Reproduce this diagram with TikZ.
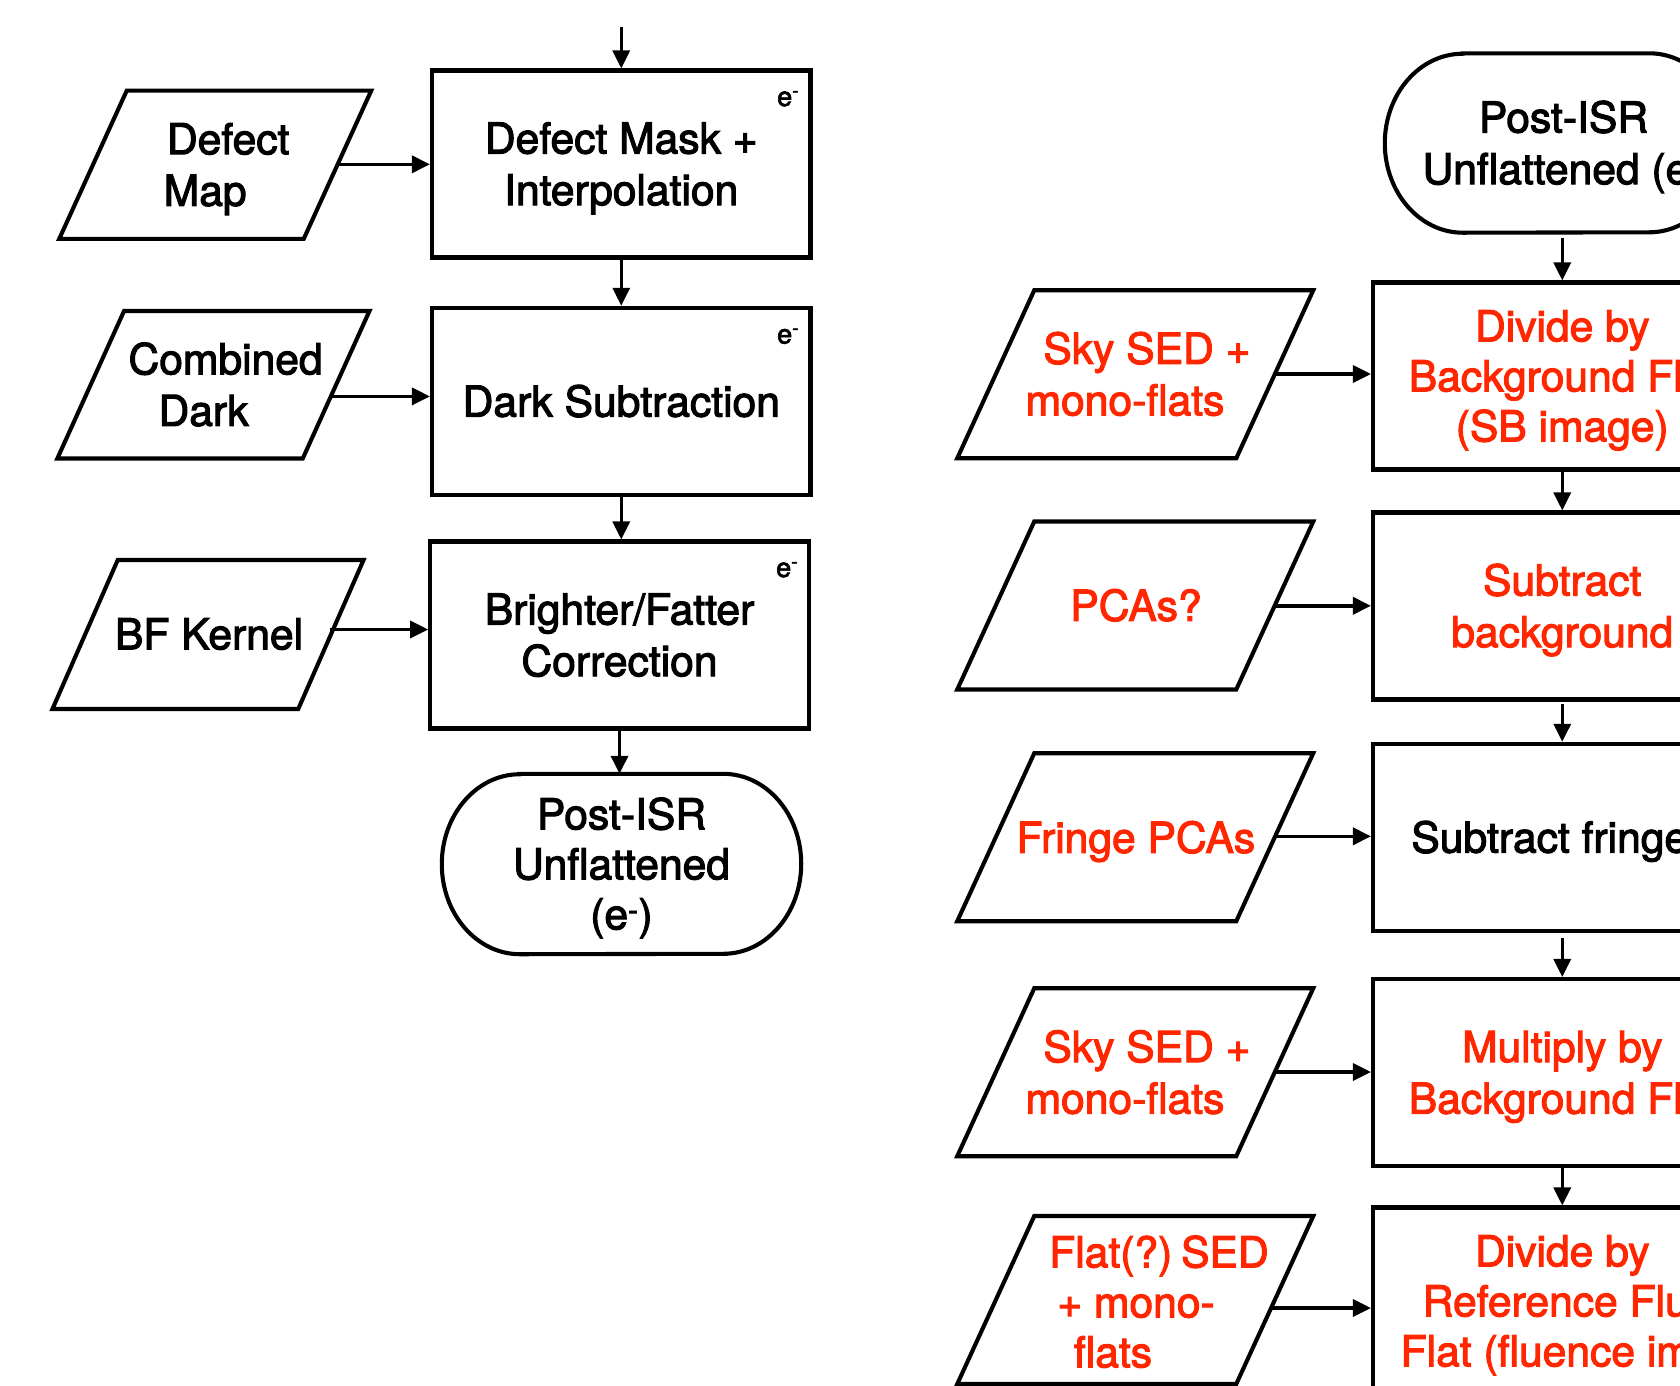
\documentclass[tikz,border=0pt]{standalone}
\usepackage{fontspec}
\setmainfont{TeX Gyre Heros}[FakeBold=2.5]
\usetikzlibrary{arrows.meta}
\definecolor{kred}{RGB}{255,38,0}
\newcommand\bigfnt{\fontsize{42.6pt}{50pt}\selectfont}
\newcommand\smallfnt{\fontsize{27pt}{29pt}\selectfont}
\newcommand\stl{\rule[-10pt]{0pt}{50.6pt}}
\newcommand\gap[1]{\rule{#1}{0pt}}
\newcommand\pgram[5]{\draw[shp] ({#1-#3+#4},{#2-#5}) -- ({#1+#3+#4},{#2-#5}) -- ({#1+#3-#4},{#2+#5}) -- ({#1-#3-#4},{#2+#5}) -- cycle;}
\begin{document}
\begin{tikzpicture}[x=1pt,y=-1pt,
  box/.style={draw, line width=4.1pt, minimum width=378.5pt, minimum height=187pt, inner sep=0pt, align=center, font=\bigfnt},
  txt/.style={inner sep=0pt, align=center, font=\bigfnt},
  shp/.style={draw, line width=4.1pt, line join=miter},
  arr/.style={line width=3.4pt, -{Triangle[length=18pt,width=17pt]}},
  esup/.style={inner sep=0pt, font=\smallfnt, anchor=base west}]
\useasboundingbox (0,0) rectangle (1680,1385);
\clip (0,0) rectangle (1680,1385);
\fill[white] (0,0) rectangle (1680,1385);

% ---------- left column ----------
\coordinate (top) at (621.25,27);
\node[box] (b1) at (621.25,164) {\stl Defect Mask +\\Interpolation\stl};
\node[box] (b2) at (621.25,401.3) {\stl Dark Subtraction\stl};
\node[box] (b3) at (619.5,635) {\stl Brighter/Fatter\\Correction\stl};
\node[esup] (e1) at (777,106) {e\textsuperscript{-}};
\node[esup] (e2) at (777,343.5) {e\textsuperscript{-}};
\node[esup] (e3) at (776,577) {e\textsuperscript{-}};

\pgram{215.25}{164.7}{122.25}{33.75}{74.1}
\node[txt] (dm) at (216.7,164.7) {\stl\gap{23pt}Defect\\Map\gap{23pt}\stl};
\coordinate (dma) at (337.8,164.3);
\pgram{213.4}{384.75}{122.7}{33.35}{73.75}
\node[txt] (cd) at (214.6,384.75) {\stl\gap{22pt}Combined\\Dark\gap{22pt}\stl};
\coordinate (cda) at (330.8,396.4);
\pgram{208}{634.5}{122.9}{32.65}{74.5}
\node[txt] (bfk) at (209,634) {\stl BF Kernel\stl};
\coordinate (bfa) at (330,629.5);

\node[txt, minimum width=359pt, minimum height=180pt] (lp) at (621.5,864) {\stl Post-ISR\\Unflattened\\(e\textsuperscript{-})\stl};
\draw[shp] ([xshift=78pt]lp.north west) -- ([xshift=-78pt]lp.north east)
  arc[start angle=90,end angle=-90,x radius=78pt,y radius=90pt]
  -- ([xshift=78pt]lp.south west)
  arc[start angle=270,end angle=90,x radius=78pt,y radius=90pt] -- cycle;

\draw[arr] (top) -- (b1.north);
\draw[arr] (b1.south) -- (b2.north);
\draw[arr] (b2.south) -- (b2.south |- b3.north);
\draw[arr] (b3.south) -- (b3.south |- lp.north);
\draw[arr] (dma) -- (dma -| b1.west);
\draw[arr] (cda) -- (cda -| b2.west);
\draw[arr] (bfa) -- (bfa -| b3.west);

% ---------- right column ----------
\node[txt, minimum width=342pt, minimum height=179pt] (rp) at (1556,143) {\stl\gap{15pt}Post-ISR\\Unflattened (e\stl};
\draw[shp] ([xshift=78pt]rp.north west) -- ([xshift=-78pt]rp.north east)
  arc[start angle=90,end angle=-90,x radius=78pt,y radius=89.5pt]
  -- ([xshift=78pt]rp.south west)
  arc[start angle=270,end angle=90,x radius=78pt,y radius=89.5pt] -- cycle;

\node[box, text=kred] (r1) at (1562.25,376) {\stl Divide by\\Background Fl\gap{33pt}\\(SB image)\stl};
\node[box, text=kred] (r2) at (1562.25,606) {\stl Subtract\\background\stl};
\node[box] (r3) at (1562.25,837.3) {\stl Subtract fringe\gap{25pt}\stl};
\node[box, text=kred] (r4) at (1562.25,1072.5) {\stl Multiply by\\Background Fl\gap{33pt}\stl};
\node[box, text=kred] (r5) at (1562.25,1301) {\stl Divide by\\Reference Flu\gap{13pt}\\Flat (fluence im\gap{32pt}\stl};

\pgram{1135.25}{374.25}{139.5}{38.5}{84}
\node[txt, text=kred] (s1) at (1136,374.25) {\stl\gap{22pt}Sky SED +\\mono-flats\gap{22pt}\stl};
\coordinate (s1a) at (1274.75,374);
\pgram{1135.25}{605.5}{139.5}{38.5}{84}
\node[txt, text=kred] (pc) at (1136,605.5) {\stl PCAs?\stl};
\coordinate (pca) at (1274.6,605.8);
\pgram{1135.25}{837.2}{139.5}{38.5}{84}
\node[txt, text=kred] (fp) at (1135.8,837.5) {\stl Fringe PCAs\stl};
\coordinate (fpa) at (1275,836.3);
\pgram{1135.25}{1072.2}{139.5}{38.5}{84}
\node[txt, text=kred] (s2) at (1136,1072.5) {\stl\gap{22pt}Sky SED +\\mono-flats\gap{22pt}\stl};
\coordinate (s2a) at (1275,1072);
\pgram{1135.25}{1300}{139.5}{38.5}{84}
\node[txt, text=kred] (fs) at (1136,1302) {\stl\gap{46pt}Flat(?)\kern-3pt\ SED\\+ mono-\\flats\gap{46pt}\stl};
\coordinate (fsa) at (1271,1308);

\draw[arr, shorten <=5pt] (r1.north |- rp.south) -- (r1.north);
\draw[arr] (r1.south) -- (r2.north);
\draw[arr, shorten <=2pt] (r2.south) -- (r3.north);
\draw[arr, shorten <=5pt] (r3.south) -- (r4.north);
\draw[arr] (r4.south) -- (r5.north);
\draw[arr] (s1a) -- (s1a -| r1.west);
\draw[arr] (pca) -- (pca -| r2.west);
\draw[arr] (fpa) -- (fpa -| r3.west);
\draw[arr] (s2a) -- (s2a -| r4.west);
\draw[arr] (fsa) -- (fsa -| r5.west);
\end{tikzpicture}
\end{document}
